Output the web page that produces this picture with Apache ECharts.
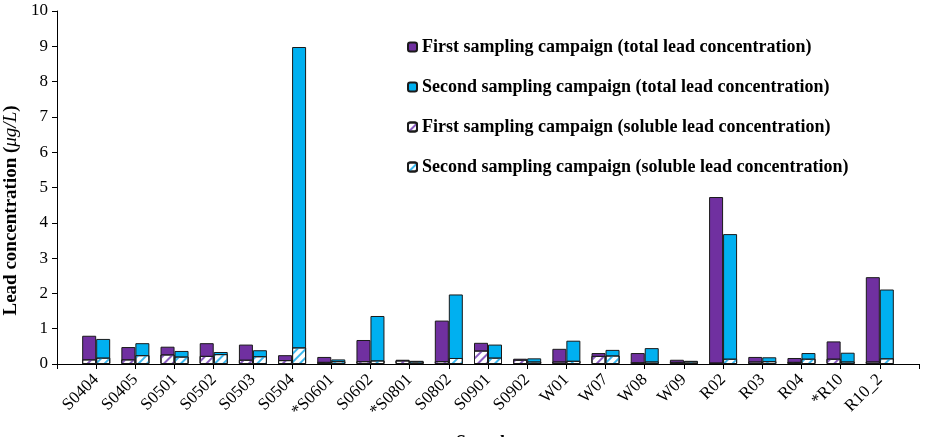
<!DOCTYPE html>
<html style="height: 100%">
<head>
    <meta charset="utf-8">
    <script src="https://cdn.jsdelivr.net/npm/echarts@6/dist/echarts.min.js"></script>
</head>
<body style="height: 100%; margin: 0; background: #fff;">
<div id="container" style="width: 938px; height: 437px;"></div>
<script type="text/javascript">
// sample sites
var sites = ['S0404', 'S0405', 'S0501', 'S0502', 'S0503', 'S0504', '*S0601', 'S0602', '*S0801', 'S0802',
    'S0901', 'S0902', 'W01', 'W07', 'W08', 'W09', 'R02', 'R03', 'R04', '*R10', 'R10_2'];
// total lead, µg/L
var firstTotal = [0.80, 0.48, 0.49, 0.59, 0.55, 0.25, 0.20, 0.68, 0.12, 1.23,
    0.60, 0.15, 0.43, 0.31, 0.31, 0.12, 4.73, 0.20, 0.17, 0.64, 2.46];
var secondTotal = [0.71, 0.59, 0.37, 0.34, 0.39, 8.98, 0.13, 1.36, 0.09, 1.97,
    0.55, 0.16, 0.66, 0.40, 0.45, 0.09, 3.68, 0.19, 0.31, 0.32, 2.11];
// soluble lead, µg/L
var firstSoluble = [0.13, 0.13, 0.27, 0.23, 0.12, 0.11, 0.06, 0.08, 0.10, 0.08,
    0.38, 0.12, 0.07, 0.23, 0.05, 0.06, 0.04, 0.07, 0.06, 0.15, 0.07];
var secondSoluble = [0.18, 0.25, 0.21, 0.28, 0.22, 0.47, 0.08, 0.10, 0.07, 0.17,
    0.18, 0.07, 0.09, 0.24, 0.07, 0.07, 0.15, 0.08, 0.15, 0.07, 0.16];
var yTicks = [0, 1, 2, 3, 4, 5, 6, 7, 8, 9, 10];

// excel-style axis: an empty slot on each end, bars sit on the tick marks
function pad(arr, blank) {
    return [blank].concat(arr, [blank]);
}
var cats = pad(sites, '');

var serif = '"Liberation Serif", "Times New Roman", serif';
var hatch = function (c) {
    return {
        symbol: 'rect',
        symbolSize: 1,
        color: c,
        dashArrayX: [1, 0],
        dashArrayY: [1.5, 3.5],
        rotation: -Math.PI / 4
    };
};

var chart = echarts.init(document.getElementById('container'));
var option = {
    animation: false,
    backgroundColor: '#fff',
    grid: {left: 57, right: 19, top: 11, bottom: 73, outerBoundsMode: 'none', containLabel: false},
    legend: {
        orient: 'vertical',
        left: 402,
        top: 33,
        itemWidth: 9,
        itemHeight: 9,
        itemGap: 22,
        textStyle: {fontFamily: serif, fontWeight: 'bold', fontSize: 18, color: '#000', lineHeight: 18},
        data: [
            'First sampling campaign (total lead concentration)',
            'Second sampling campaign (total lead concentration)',
            'First sampling campaign (soluble lead concentration)',
            'Second sampling campaign (soluble lead concentration)'
        ]
    },
    xAxis: [{
        type: 'category',
        data: cats,
        boundaryGap: false,
        name: 'Samples',
        nameLocation: 'middle',
        nameGap: 70,
        nameTextStyle: {fontFamily: serif, fontWeight: 'bold', fontSize: 18, color: '#000'},
        axisLine: {lineStyle: {color: '#000', width: 1}},
        axisTick: {length: 5, lineStyle: {color: '#000'}},
        axisLabel: {rotate: 45, fontFamily: serif, fontSize: 17, color: '#000', margin: 13, interval: 0}
    }, {
        type: 'category',
        data: cats,
        boundaryGap: false,
        show: false
    }],
    yAxis: {
        type: 'value',
        min: yTicks[0],
        max: yTicks[yTicks.length - 1],
        interval: 1,
        name: '{b|Lead concentration (}{i|μg/L}{b|)}',
        nameLocation: 'middle',
        nameGap: 36,
        nameTextStyle: {
            padding: [0, 46, 0, 0],
            rich: {
                b: {fontFamily: serif, fontWeight: 'bold', fontSize: 19, color: '#000'},
                i: {fontFamily: serif, fontStyle: 'italic', fontSize: 19, color: '#000'}
            }
        },
        splitLine: {show: false},
        axisLine: {show: true, lineStyle: {color: '#000', width: 1}},
        axisTick: {show: true, length: 5, lineStyle: {color: '#000'}},
        axisLabel: {fontFamily: serif, fontSize: 17, color: '#000', margin: 9}
    },
    series: [{
        name: 'First sampling campaign (total lead concentration)',
        type: 'bar',
        xAxisIndex: 0,
        barWidth: 14,
        barGap: '0%',
        data: pad(firstTotal, null),
        itemStyle: {color: '#7030a0', borderColor: '#1a1a1a', borderWidth: 1}
    }, {
        name: 'Second sampling campaign (total lead concentration)',
        type: 'bar',
        xAxisIndex: 0,
        barWidth: 14,
        barGap: '0%',
        data: pad(secondTotal, null),
        itemStyle: {color: '#00b0f0', borderColor: '#1a1a1a', borderWidth: 1}
    }, {
        name: 'First sampling campaign (soluble lead concentration)',
        type: 'bar',
        xAxisIndex: 1,
        barWidth: 14,
        barGap: '0%',
        z: 3,
        data: pad(firstSoluble, null),
        itemStyle: {color: '#ffffff', borderColor: '#1a1a1a', borderWidth: 1, decal: hatch('#8a5cc0')}
    }, {
        name: 'Second sampling campaign (soluble lead concentration)',
        type: 'bar',
        xAxisIndex: 1,
        barWidth: 14,
        barGap: '0%',
        z: 3,
        data: pad(secondSoluble, null),
        itemStyle: {color: '#ffffff', borderColor: '#1a1a1a', borderWidth: 1, decal: hatch('#3cb8ee')}
    }]
};
chart.setOption(option);
</script>
</body>
</html>
